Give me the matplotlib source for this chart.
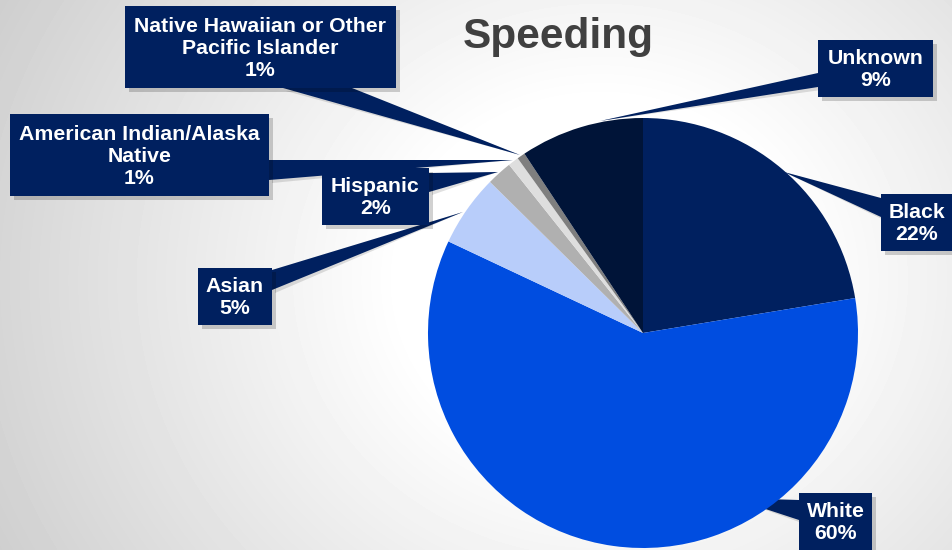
import numpy as np
import matplotlib.pyplot as plt
from matplotlib.patches import Rectangle, Polygon

plt.rcParams['font.family'] = ['Liberation Sans', 'DejaVu Sans']

# data (clockwise from 12 o'clock)
groups = ["Black", "White", "Asian", "Hispanic",
          "American Indian/Alaska\nNative",
          "Native Hawaiian or Other\nPacific Islander", "Unknown"]
shares = [22.4, 59.6, 5.4, 1.9, 0.8, 0.6, 9.3]
colors = ["#00205f", "#004de0", "#b8cdfa", "#b0b0b0", "#dedede", "#7f7f7f", "#001438"]

# label boxes (x0, y0, x1, y1) and callout (base1, base2, apex), pixels from top-left
boxes = [(881, 194, 958, 251), (799, 493, 872, 556), (198, 268, 272, 325),
         (322, 168, 429, 225), (10, 114, 269, 196), (125, 6, 396, 88),
         (818, 40, 933, 97)]
callouts = [((881, 198), (881, 217), (784, 172)),
            ((799, 500), (799, 520), (732, 498)),
            ((272, 270), (272, 290), (463, 212)),
            ((429, 173), (429, 192), (498, 172)),
            ((269, 160), (269, 180), (513, 160)),
            ((283, 88), (352, 88), (520, 155)),
            ((818, 73), (818, 87), (600, 121))]

W, H = 953, 550
navy = "#00205f"

fig = plt.figure(figsize=(9.53, 5.5), dpi=100)
ax = fig.add_axes([0, 0, 1, 1])

# background gradient
xx, yy = np.meshgrid(np.arange(W), np.arange(H))
d = np.hypot(xx - 600, (yy - 280) / 0.9)
v = np.clip(1 - (d - 200) / 600 * 0.24, 0.8, 1.0)
ax.imshow(v, cmap='gray', vmin=0, vmax=1, extent=(0, W, H, 0), zorder=0)

ax.pie(shares, colors=colors, center=(643, 333), radius=215,
       startangle=-90, counterclock=True,
       wedgeprops=dict(linewidth=0, zorder=3))

for (b1, b2, apex) in callouts:
    ax.add_patch(Polygon([(b1[0] + 3, b1[1] + 3), (b2[0] + 3, b2[1] + 3), apex],
                         closed=True, facecolor='#000000', alpha=0.12,
                         edgecolor='none', zorder=1.5))
    ax.add_patch(Polygon([b1, b2, apex], closed=True, facecolor=navy,
                         edgecolor='none', zorder=2))

for name, val, (x0, y0, x1, y1) in zip(groups, shares, boxes):
    ax.add_patch(Rectangle((x0 + 4, y0 + 4), x1 - x0, y1 - y0, facecolor='#000000',
                           alpha=0.18, edgecolor='none', zorder=3.5))
    ax.add_patch(Rectangle((x0, y0), x1 - x0, y1 - y0, facecolor=navy,
                           edgecolor='none', zorder=4))
    cx = (x0 + min(x1, W)) / 2
    cy = (y0 + min(y1, H)) / 2 + 1
    ax.text(cx, cy, f"{name}\n{round(val)}%", color='white', fontsize=15.3,
            fontweight='bold', ha='center', va='center', linespacing=1.2, zorder=5)

ax.text(558, 37, "Speeding", fontsize=30.5, fontweight='bold', color='#404040',
        ha='center', va='center', zorder=5)

ax.set_xlim(0, W)
ax.set_ylim(H, 0)
ax.axis('off')
fig.savefig('out.png', dpi=100)
